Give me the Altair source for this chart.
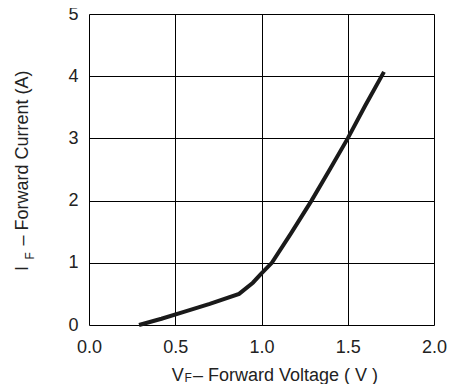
import altair as alt
import pandas as pd

# Forward voltage (V) and forward current (A)
vf = [0.29, 0.42, 0.55, 0.70, 0.87, 0.95, 1.00, 1.06, 1.17, 1.29, 1.40, 1.50, 1.60, 1.71]
i_f = [0.00, 0.10, 0.21, 0.34, 0.50, 0.68, 0.83, 1.00, 1.47, 2.00, 2.52, 3.00, 3.52, 4.07]

x_ticks = [0.0, 0.5, 1.0, 1.5, 2.0]
y_ticks = [0, 1, 2, 3, 4, 5]

y_title_main = "I"
y_title_sub = "F"
y_title_rest = "\u2013 Forward Current (A)"
x_title_main = "V"
x_title_sub = "F"
x_title_rest = "\u2013 Forward Voltage ( V )"

FONT = "Liberation Sans"
W, H = 345, 311

df = pd.DataFrame({"volt": vf, "curr": i_f})

line = alt.Chart(df).mark_line(color="#1a1a1a", strokeWidth=4).encode(
    x=alt.X("volt:Q", scale=alt.Scale(domain=[0, 2], nice=False),
            axis=alt.Axis(values=x_ticks, format=".1f", title=None, grid=True,
                          ticks=False, domain=False, labelPadding=13,
                          labelFontSize=18, labelFont=FONT, labelColor="#222",
                          gridColor="#000", gridWidth=1, gridOpacity=1,
                          labelFlush=False)),
    y=alt.Y("curr:Q", scale=alt.Scale(domain=[0, 5], nice=False),
            axis=alt.Axis(values=y_ticks, format="d", title=None, grid=True,
                          ticks=False, domain=False, labelPadding=11,
                          labelFontSize=18, labelFont=FONT, labelColor="#222",
                          gridColor="#000", gridWidth=1, gridOpacity=1,
                          labelFlush=False)),
)

def txt(s, x, y, size, angle=0):
    return alt.Chart(pd.DataFrame({"t": [s]})).mark_text(
        font=FONT, fontSize=size, color="#222", align="left",
        baseline="alphabetic", angle=angle
    ).encode(x=alt.value(x), y=alt.value(y), text="t:N")

titles = [
    txt(y_title_main, -61, 257, 18, 270),
    txt(y_title_sub, -55.5, 245.5, 12, 270),
    txt(y_title_rest, -61, 231.5, 18, 270),
    txt(x_title_main, 82.7, 366.5, 18),
    txt(x_title_sub, 95.5, 368, 12),
    txt(x_title_rest, 104, 366.5, 18),
]

chart = alt.layer(line, *titles).properties(
    width=W, height=H,
    autosize=alt.AutoSizeParams(type="none"),
    padding={"left": 81, "top": 6, "right": 13, "bottom": 59},
).configure_view(stroke="#111", strokeWidth=2.5).configure(background="white")

chart.save("out.html", embed_options={"renderer": "svg", "actions": False})
